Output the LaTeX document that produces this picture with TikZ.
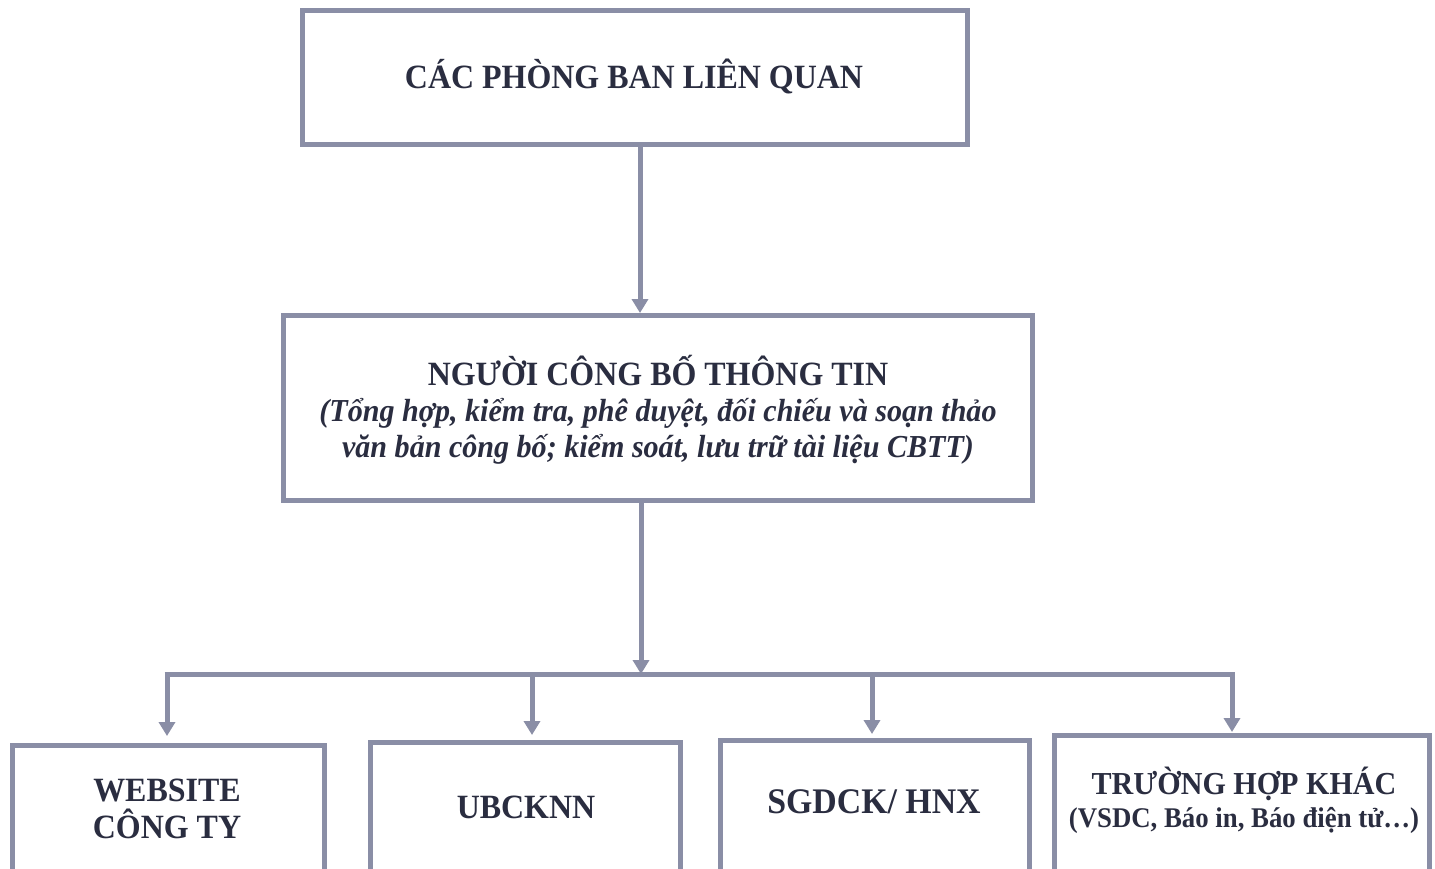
\documentclass[tikz,border=0pt]{standalone}
\usepackage{fontspec}
\setmainfont{Liberation Serif}[FakeStretch=0.94]
\usetikzlibrary{arrows.meta}
\definecolor{bordc}{HTML}{8A8EA6}
\definecolor{txtc}{HTML}{2A2D40}
\begin{document}
\begin{tikzpicture}[x=1pt,y=-1pt,
  box/.style={draw=bordc, line width=5pt, inner sep=0pt},
  wire/.style={draw=bordc, line width=5pt},
  conn/.style={draw=bordc, line width=5pt, -{Triangle[width=16pt,length=14pt]}},
  txt/.style={text=txtc, inner sep=0pt, align=center, font=\bfseries\fontsize{34}{37}\selectfont}]
\useasboundingbox (0,0) rectangle (1435,868);
\clip (0,0) rectangle (1435,868);
\fill[white] (0,0) rectangle (1435,868);
% boxes
\node[box, minimum width=665pt, minimum height=134pt] (top) at (635,77.5) {};
\node[box, minimum width=749pt, minimum height=185pt] (mid) at (658,408) {};
\node[box, minimum width=312pt, minimum height=200pt] (web) at (168.5,845.5) {};
\node[box, minimum width=310pt, minimum height=200pt] (ubc) at (525.5,842.5) {};
\node[box, minimum width=309pt, minimum height=200pt] (sgd) at (875,840.5) {};
\node[box, minimum width=375pt, minimum height=200pt] (oth) at (1242,835.5) {};
% texts
\node[txt] (ttop) at (634,76) {CÁC PHÒNG BAN LIÊN QUAN};
\node[txt] (tmid) at (658,410) {NGƯỜI CÔNG BỐ THÔNG TIN\\[-1pt]
  {\itshape\fontsize{32}{36}\selectfont (Tổng hợp, kiểm tra, phê duyệt, đối chiếu và soạn thảo}\\[-1pt]
  {\itshape\fontsize{32}{36}\selectfont văn bản công bố; kiểm soát, lưu trữ tài liệu CBTT)}};
\node[txt] (tweb) at (167,809) {WEBSITE\\[0pt] CÔNG TY};
\node[txt] (tubc) at (526,807) {UBCKNN};
\node[txt, font=\bfseries\fontsize{36}{38}\selectfont] (tsgd) at (874,802) {SGDCK/ HNX};
\node[txt] (toth) at (1244,800) {{\fontsize{32}{35}\selectfont TRƯỜNG HỢP KHÁC}\\[-4pt]
  {\fontsize{28.5}{31}\selectfont (VSDC, Báo in, Báo điện tử…)}};
% connectors
\coordinate (mx) at (640,0);
\coordinate (bx) at (641,0);
\coordinate (bus) at (641,674);
\coordinate (b1) at (167,674);
\coordinate (b2) at (532,674);
\coordinate (b3) at (872,674);
\coordinate (b4) at (1232,674);
\draw[conn] (top.south -| mx) -- (mid.north -| mx);
\draw[wire] ([xshift=-2.5pt]b1) -- ([xshift=2.5pt]b4);
\draw[conn] (mid.south -| bx) -- (bus);
\draw[conn, shorten >=7pt] (b1) -- (web.north -| b1);
\draw[conn, shorten >=5pt] (b2) -- (ubc.north -| b2);
\draw[conn, shorten >=4pt] (b3) -- (sgd.north -| b3);
\draw[conn, shorten >=1pt] (b4) -- (oth.north -| b4);
\end{tikzpicture}
\end{document}
